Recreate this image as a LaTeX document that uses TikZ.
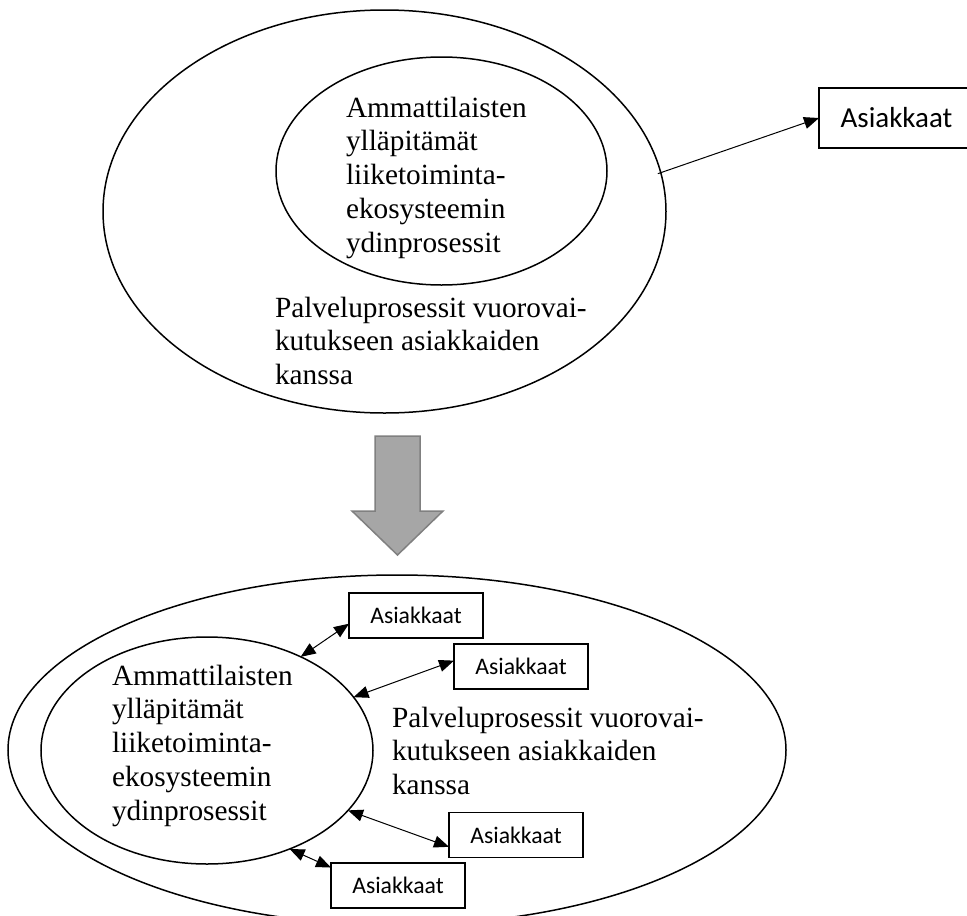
\documentclass[tikz,border=0pt]{standalone}
\usepackage{fontspec}
\setmainfont{Liberation Serif}
\newfontfamily\calfont{Carlito}
\usetikzlibrary{shapes.geometric,arrows.meta}
\definecolor{arrowfill}{RGB}{166,166,166}
\definecolor{arrowedge}{RGB}{128,128,128}
\begin{document}
\begin{tikzpicture}[x=1pt,y=-1pt,
  oval/.style={draw, ellipse, line width=1.5pt, inner sep=0pt, outer sep=0pt},
  serif/.style={inner sep=0pt, outer sep=0pt, anchor=base west, font=\fontsize{29.3}{33.75}\selectfont},
  bigbox/.style={draw, line width=1.2pt, minimum width=155pt, minimum height=60pt, inner sep=0pt, outer sep=0pt, font=\calfont\fontsize{29}{34}\selectfont},
  smallbox/.style={draw, line width=1.2pt, minimum width=134pt, minimum height=45pt, inner sep=0pt, outer sep=0pt, font=\calfont\fontsize{23.7}{28}\selectfont},
  link/.style={line width=1pt, -{Triangle[length=15pt,width=12pt]}},
  dlink/.style={line width=1pt, {Triangle[length=15pt,width=12pt]}-{Triangle[length=15pt,width=12pt]}},
  bigarrow/.style={fill=arrowfill, draw=arrowedge, line width=1.5pt, line join=miter}
]
\useasboundingbox (0,0) rectangle (967,916);
\clip (0,0) rectangle (967,916);

% ---------- top part ----------
\node[oval, minimum width=563pt, minimum height=403pt] (to) at (384.5,211.5) {};
\node[oval, minimum width=331pt, minimum height=228pt] (ti) at (441.5,171) {};
\node[serif] (titext) at (346,117) {\begin{tabular}[t]{@{}l@{}}Ammattilaisten\\ ylläpitämät\\ liiketoiminta-\\ ekosysteemin\\ ydinprosessit\end{tabular}};
\node[serif] (totext) at (275,317) {\begin{tabular}[t]{@{}l@{}}Palveluprosessit vuorovai-\\ kutukseen asiakkaiden\\ kanssa\end{tabular}};
\node[bigbox] (tb) at (896.5,118) {Asiakkaat};
\draw[link, shorten <=-3pt] (to.8.5) -- (tb.west);

% ---------- transition arrow ----------
\draw[bigarrow] (375,436) -- (420,436) -- (420,511) -- (443,511) -- (397.5,555) -- (352,511) -- (375,511) -- cycle;

% ---------- bottom part ----------
\node[oval, minimum width=778pt, minimum height=350pt] (bo) at (397,750) {};
\node[oval, minimum width=332pt, minimum height=227pt] (bi) at (207,750.5) {};
\node[serif] (bitext) at (112,685) {\begin{tabular}[t]{@{}l@{}}Ammattilaisten\\ ylläpitämät\\ liiketoiminta-\\ ekosysteemin\\ ydinprosessit\end{tabular}};
\node[serif] (botext) at (392,727) {\begin{tabular}[t]{@{}l@{}}Palveluprosessit vuorovai-\\ kutukseen asiakkaiden\\ kanssa\end{tabular}};

\node[smallbox] (b1) at (416,615.5) {Asiakkaat};
\node[smallbox] (b2) at (521,666.5) {Asiakkaat};
\node[smallbox] (b3) at (516,835) {Asiakkaat};
\node[smallbox] (b4) at (398,885.5) {Asiakkaat};

\draw[dlink] (bi.45) -- (b1.187);
\draw[dlink] (bi.20) -- (b2.175);
\draw[dlink] (bi.-23) -- (b3.190);
\draw[dlink] (bi.-50) -- (b4.165);
\end{tikzpicture}
\end{document}
